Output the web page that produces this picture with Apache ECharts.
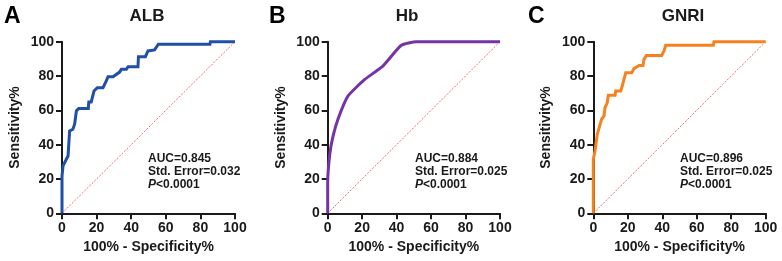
<!DOCTYPE html>
<html>
<head>
<meta charset="utf-8">
<script src="https://cdn.jsdelivr.net/npm/echarts@6/dist/echarts.min.js"></script>
<style>
  html, body { margin: 0; padding: 0; background: #fff; }
  #main { width: 782px; height: 261px; }
</style>
</head>
<body>
<div id="main"></div>
<script>
// ROC curves, values (100% - specificity, sensitivity)
var albX = [0, 0, 0.6, 2.5, 3.5, 4.4, 6.3, 7.3, 8.3, 9.6, 15.2, 15.5, 16.9, 18.5, 20.4, 23.7, 25.6, 26.6, 29.5, 33.3, 34.3, 37.2, 38.2, 43.9, 44.2, 48.2, 49.7, 53.5, 55.7, 85.5, 85.8, 100];
var albY = [0, 21.7, 27.6, 31.5, 33.4, 48, 49, 51.9, 59.6, 61, 61, 64.9, 64.9, 71.3, 73.2, 73.2, 77.1, 79.6, 79.6, 82.3, 83.9, 83.9, 85.4, 85.4, 91.3, 91.3, 94.6, 95.2, 98.5, 98.5, 100, 100];

var hbX = [0, 0, 1.2, 3.1, 6, 11.8, 21.5, 32, 42.7, 51.4, 100];
var hbY = [0, 17.8, 34.4, 45, 55, 68.4, 78, 85.8, 97.9, 100, 100];

var gnriX = [0, 0, 1, 1.8, 2.3, 3.7, 4.8, 6.2, 6.8, 8.1, 8.7, 12.6, 13, 15.9, 16.8, 17.8, 18.8, 22.3, 23.6, 26.5, 28.8, 29.4, 30.8, 39.7, 41, 42, 69.6, 70, 100];
var gnriY = [0, 31.5, 36.3, 36.3, 46, 50.9, 54.8, 56.7, 61.5, 64.5, 68.8, 68.8, 71.3, 71.3, 74.2, 78.1, 81.9, 81.9, 84.3, 86.2, 86.2, 89.7, 92, 92, 94.6, 97.9, 97.9, 100, 100];

var refX = [0, 100];
var refY = [0, 100];

var panelLetters = ['A', 'B', 'C'];
var panelTitles = ['ALB', 'Hb', 'GNRI'];
var aucText = ['AUC=0.845', 'AUC=0.884', 'AUC=0.896'];
var seText = ['Std. Error=0.032', 'Std. Error=0.025', 'Std. Error=0.025'];
var pText = ['<0.0001', '<0.0001', '<0.0001'];

var FONT = "'Liberation Sans', Arial, sans-serif";
var INK = '#1a1a1a';

function pairs(xs, ys) {
    var out = [];
    for (var i = 0; i < xs.length; i++) out.push([xs[i], ys[i]]);
    return out;
}

var curves = [
    {x: albX, y: albY, color: '#1f4fa6', smooth: false},
    {x: hbX, y: hbY, color: '#7434a6', smooth: 0.15},
    {x: gnriX, y: gnriY, color: '#f5821e', smooth: false}
];

// layout of the three panels
var gridLeft = [62, 327.7, 593.3];
var gridW = [173, 172.3, 172.4];
var titleCx = [147, 407, 683];
var letterX = [4, 269, 528];
var noteX = [148, 415, 680];

var grids = [], xAxes = [], yAxes = [], series = [], graphics = [];

for (var k = 0; k < 3; k++) {
    grids.push({left: gridLeft[k], top: 41.7, width: gridW[k], height: 171.6});
    xAxes.push({
        type: 'value', gridIndex: k, min: 0, max: 100, interval: 20,
        name: '100% - Specificity%', nameLocation: 'middle', nameGap: 21,
        nameTextStyle: {fontFamily: FONT, fontWeight: 'bold', fontSize: 14, color: INK},
        axisLine: {lineStyle: {color: INK, width: 2}},
        axisTick: {length: 6, lineStyle: {color: INK, width: 2}},
        axisLabel: {fontFamily: FONT, fontWeight: 'bold', fontSize: 14, color: INK, margin: 8},
        splitLine: {show: false}
    });
    yAxes.push({
        type: 'value', gridIndex: k, min: 0, max: 100, interval: 20,
        name: 'Sensitivity%', nameLocation: 'middle', nameGap: 40,
        nameTextStyle: {fontFamily: FONT, fontWeight: 'bold', fontSize: 14, color: INK},
        axisLine: {show: true, lineStyle: {color: INK, width: 2}},
        axisTick: {show: true, length: 6, lineStyle: {color: INK, width: 2}},
        axisLabel: {fontFamily: FONT, fontWeight: 'bold', fontSize: 14, color: INK, margin: 8},
        splitLine: {show: false}
    });
    // chance line
    series.push({
        type: 'line', xAxisIndex: k, yAxisIndex: k, data: pairs(refX, refY),
        showSymbol: false, silent: true, z: 1,
        lineStyle: {color: '#f26b6b', width: 1, type: [2, 1.5]}
    });
    series.push({
        type: 'line', xAxisIndex: k, yAxisIndex: k, data: pairs(curves[k].x, curves[k].y),
        showSymbol: false, clip: false, smooth: curves[k].smooth, z: 3,
        lineStyle: {color: curves[k].color, width: 3, join: 'miter'}
    });

    graphics.push({
        type: 'text', left: letterX[k], top: 5,
        style: {text: panelLetters[k], fontFamily: FONT, fontWeight: 'bold', fontSize: 23, fill: '#000'}
    });
    graphics.push({
        type: 'text', x: titleCx[k], y: 16,
        style: {text: panelTitles[k], fontFamily: FONT, fontWeight: 'bold', fontSize: 17, fill: INK,
            align: 'center', verticalAlign: 'middle'}
    });
    graphics.push({
        type: 'text', x: noteX[k], y: 152,
        style: {
            text: aucText[k] + '\n' + seText[k] + '\n{i|P}' + pText[k],
            fontFamily: FONT, fontWeight: 'bold', fontSize: 12, lineHeight: 13, fill: INK,
            align: 'left', verticalAlign: 'top',
            rich: {i: {fontFamily: FONT, fontStyle: 'italic', fontWeight: 'bold', fontSize: 12, lineHeight: 13, fill: INK}}
        }
    });
}

var chart = echarts.init(document.getElementById('main'), null, {renderer: 'canvas'});
chart.setOption({
    backgroundColor: '#fff',
    animation: false,
    grid: grids,
    xAxis: xAxes,
    yAxis: yAxes,
    series: series,
    graphic: graphics
});
</script>
</body>
</html>
